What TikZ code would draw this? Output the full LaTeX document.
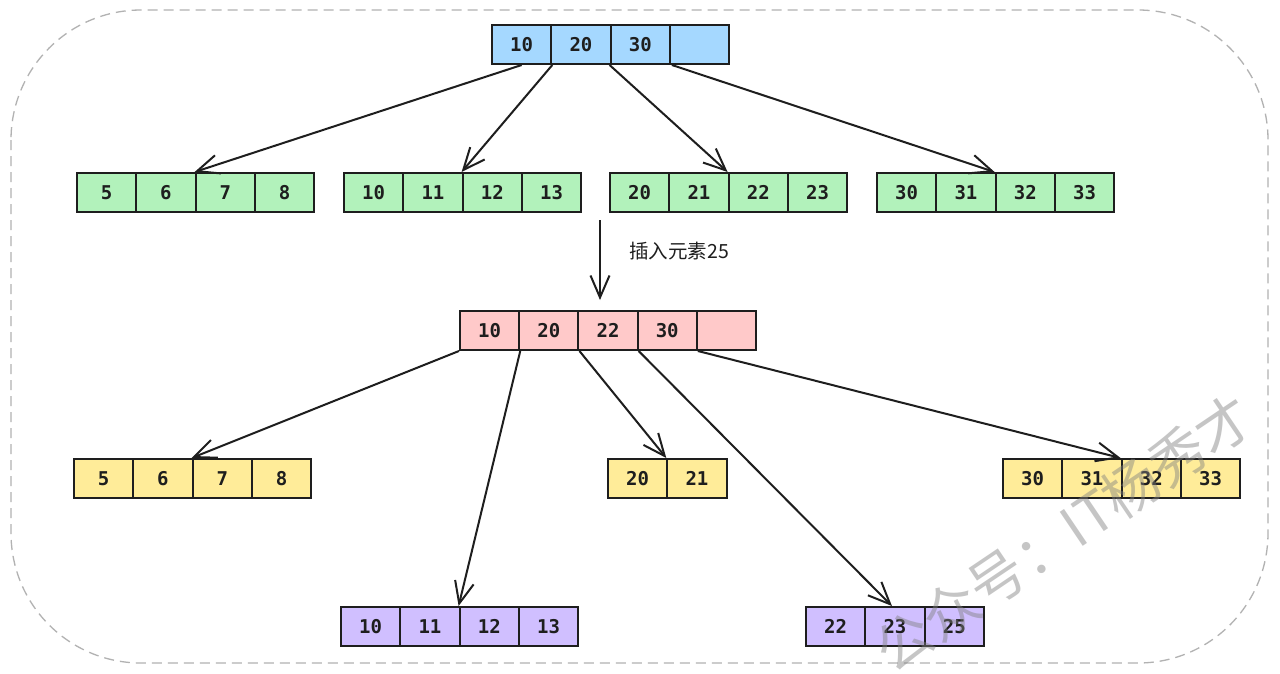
\documentclass[tikz,border=0pt]{standalone}
\usepackage{fontspec}
\usetikzlibrary{arrows.meta}
\newfontfamily\cjkfont{Noto Sans CJK SC}
\newfontfamily\monofont{DejaVu Sans Mono}
\definecolor{cblue}{HTML}{A5D8FF}
\definecolor{cgreen}{HTML}{B2F2BB}
\definecolor{cred}{HTML}{FFC9C9}
\definecolor{cyellow}{HTML}{FFEC99}
\definecolor{cviolet}{HTML}{D0BFFF}
\definecolor{ink}{HTML}{1E1E1E}
\tikzset{
  cell/.style={draw=ink, line width=2pt, rectangle, minimum width=59.3pt, minimum height=39pt,
    inner sep=0pt, text=ink, font=\monofont\bfseries\fontsize{19}{19}\selectfont},
  bluec/.style={cell, fill=cblue},
  greenc/.style={cell, fill=cgreen},
  redc/.style={cell, fill=cred},
  yellowc/.style={cell, fill=cyellow},
  violetc/.style={cell, fill=cviolet},
  link/.style={draw=ink, line width=2pt, -{Straight Barb[length=22pt,width=19pt,line width=2pt]}},
}
\begin{document}
\begin{tikzpicture}[x=1pt,y=-1pt]
\useasboundingbox (0,0) rectangle (1280,673);
\fill[white] (0,0) rectangle (1280,673);
\draw[gray!60, line width=1.3pt, dash pattern=on 10pt off 6pt, rounded corners=130pt] (11,10) rectangle (1268,663);

% top (blue)
\foreach \i/\t in {1/10,2/20,3/30,4/{}} {
  \node[bluec] (t\i) at ({492+59.3*(\i-0.5)},44.5) {\t};
}
% green row
\foreach \i/\t in {1/5,2/6,3/7,4/8} {
  \node[greenc] (ga\i) at ({77+59.3*(\i-0.5)},192.5) {\t};
}
\foreach \i/\t in {1/10,2/11,3/12,4/13} {
  \node[greenc] (gb\i) at ({344+59.3*(\i-0.5)},192.5) {\t};
}
\foreach \i/\t in {1/20,2/21,3/22,4/23} {
  \node[greenc] (gc\i) at ({610+59.3*(\i-0.5)},192.5) {\t};
}
\foreach \i/\t in {1/30,2/31,3/32,4/33} {
  \node[greenc] (gd\i) at ({877+59.3*(\i-0.5)},192.5) {\t};
}
% pink
\foreach \i/\t in {1/10,2/20,3/22,4/30,5/{}} {
  \node[redc] (p\i) at ({460+59.2*(\i-0.5)},330.5) {\t};
}
% yellow row
\foreach \i/\t in {1/5,2/6,3/7,4/8} {
  \node[yellowc] (ya\i) at ({74+59.3*(\i-0.5)},478.5) {\t};
}
\foreach \i/\t in {1/20,2/21} {
  \node[yellowc] (yb\i) at ({608+59.3*(\i-0.5)},478.5) {\t};
}
\foreach \i/\t in {1/30,2/31,3/32,4/33} {
  \node[yellowc] (yc\i) at ({1003+59.3*(\i-0.5)},478.5) {\t};
}
% violet row
\foreach \i/\t in {1/10,2/11,3/12,4/13} {
  \node[violetc] (va\i) at ({341+59.3*(\i-0.5)},626.5) {\t};
}
\foreach \i/\t in {1/22,2/23,3/25} {
  \node[violetc] (vb\i) at ({806+59.3*(\i-0.5)},626.5) {\t};
}

% top arrows
\draw[link] (t1.south) -- (ga3.north west);
\draw[link] (t1.south east) -- (gb3.north west);
\draw[link] (t3.south west) -- (gc3.north west);
\draw[link] ([xshift=3pt]t4.south west) -- (gd3.north west);

% insert arrow
\coordinate (ins1) at (600,220);
\coordinate (ins2) at (600,300);
\draw[link] (ins1) -- (ins2);
\node[anchor=west, text=ink, font=\cjkfont\fontsize{19.5}{19.5}\selectfont, inner sep=0pt] (lbl) at (629,251) {插入元素25};

% bottom arrows
\draw[link] (p1.south west) -- (ya3.north west);
\draw[link] (p1.south east) -- (va3.north west);
\draw[link] (p2.south east) -- (yb2.north west);
\draw[link] (p3.south east) -- ([xshift=-3pt]vb2.north);
\draw[link] (p4.south east) -- (yc3.north west);

% watermark
\node[rotate=34, text=gray, opacity=0.45, font=\cjkfont\fontsize{56}{56}\selectfont, inner sep=0pt] (wm) at (1064,533) {公众号：IT杨秀才};
\end{tikzpicture}
\end{document}
